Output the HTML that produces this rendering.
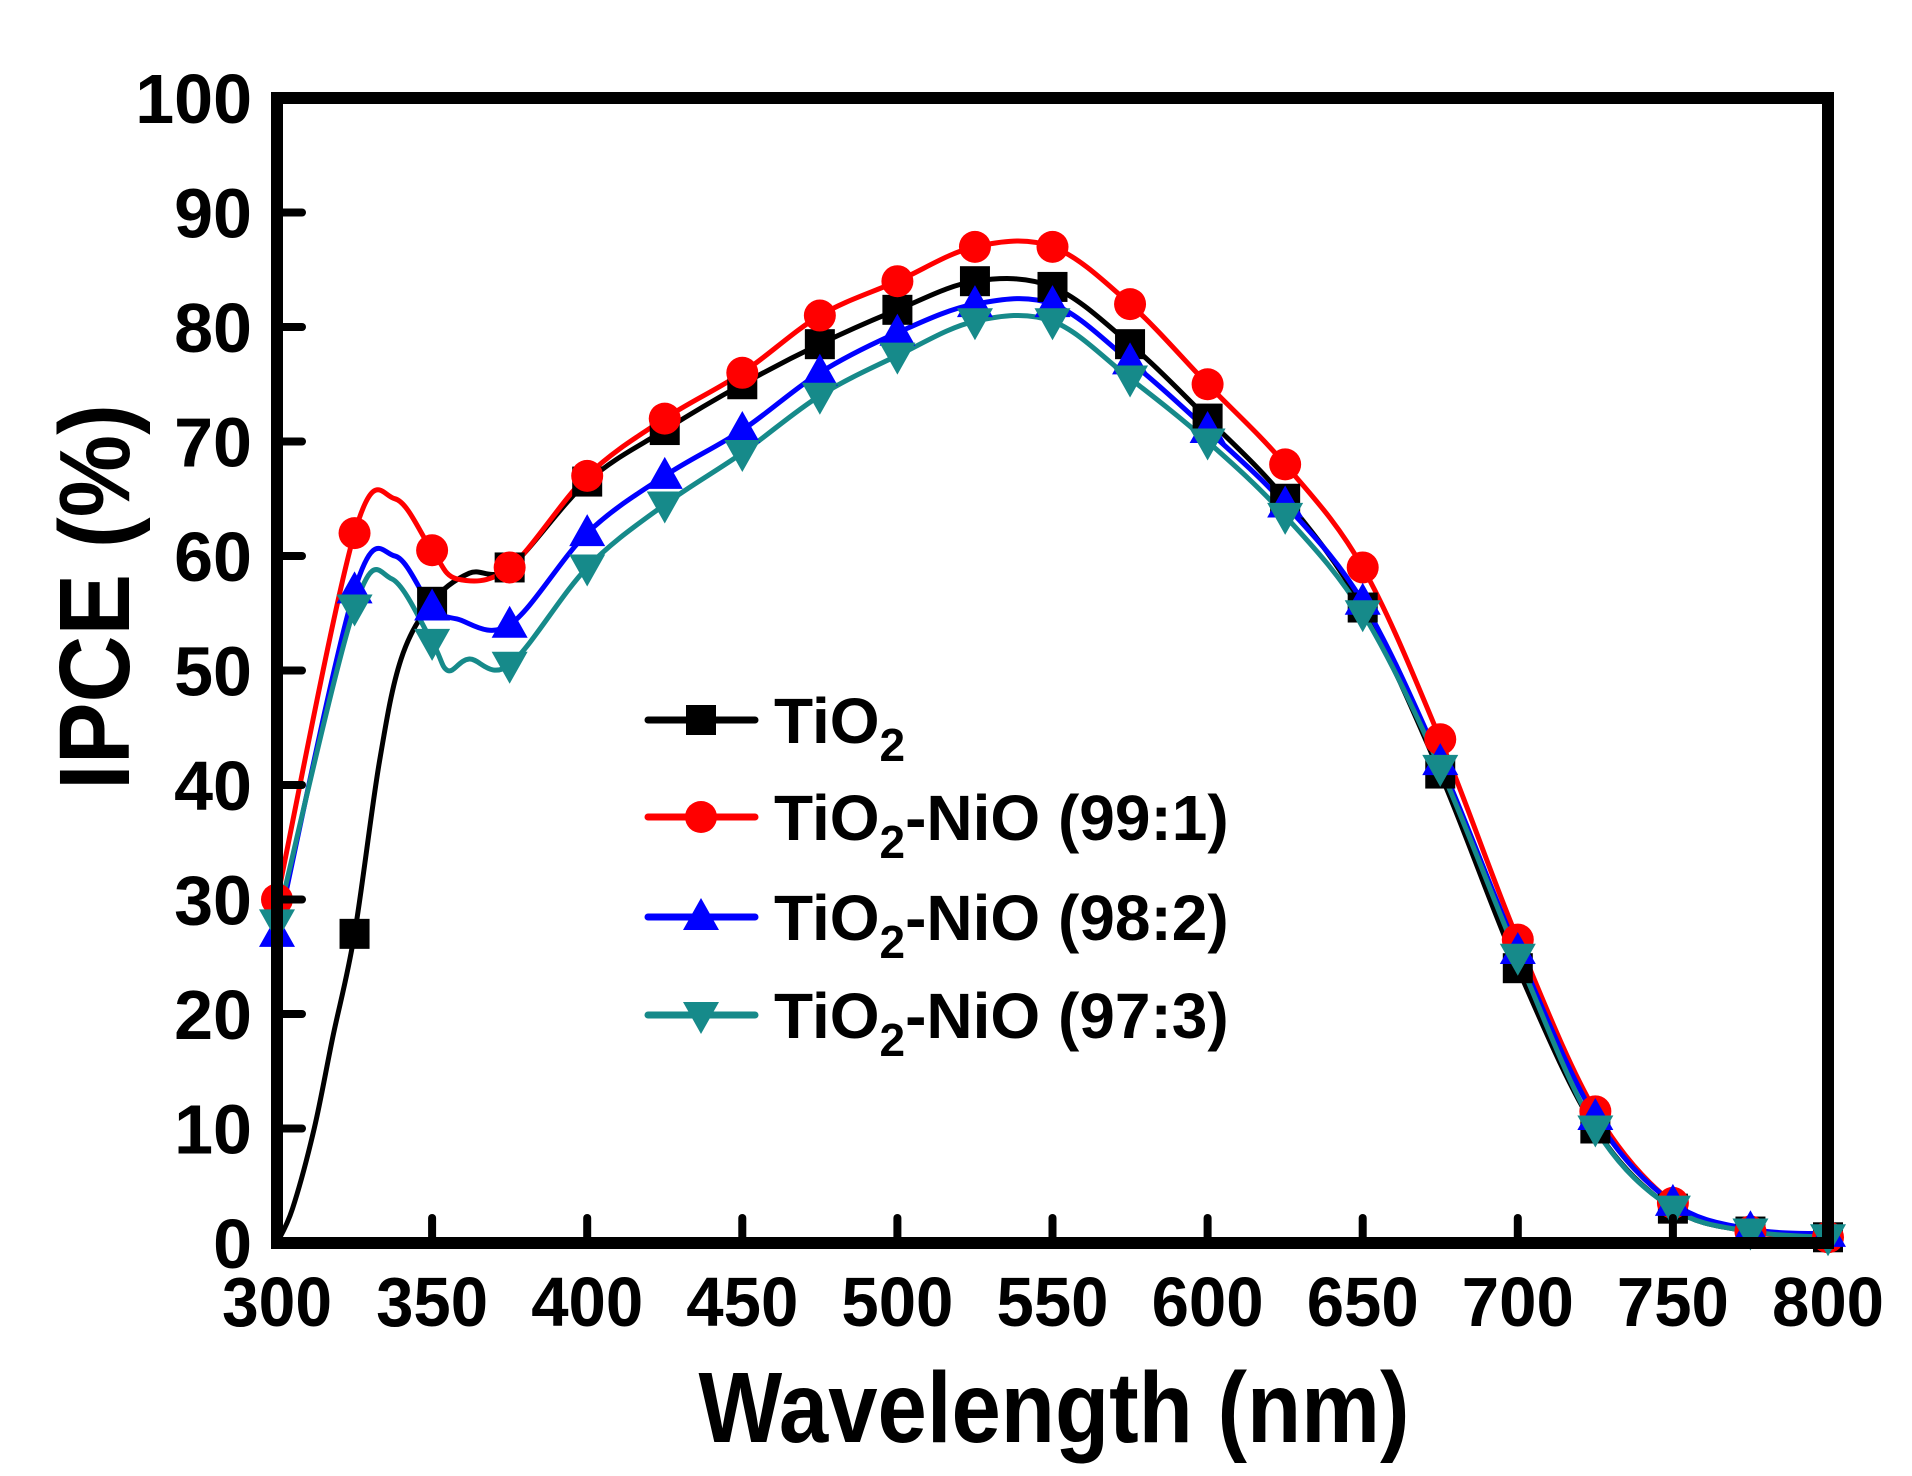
<!DOCTYPE html>
<html><head><meta charset="utf-8"><style>html,body{margin:0;padding:0;background:#fff}svg{display:block}</style></head>
<body>
<svg id="s" width="1912" height="1476" xmlns="http://www.w3.org/2000/svg" font-family="Liberation Sans, Arial, sans-serif" font-weight="bold">
<rect width="1912" height="1476" fill="#fff"/>
<g id="plot"></g>
<g id="axes"></g>
<text x="1054" y="1442" font-size="100" text-anchor="middle" textLength="711" lengthAdjust="spacingAndGlyphs">Wavelength (nm)</text>
<text transform="translate(129,597) rotate(-90)" font-size="100" text-anchor="middle" textLength="386" lengthAdjust="spacingAndGlyphs">IPCE (%)</text>
</svg>
<script>
var NS="http://www.w3.org/2000/svg";
function X(w){return 277+(w-300)*3.102;}
function Y(v){return 1243-v*11.45;}
function el(t,a,p){var e=document.createElementNS(NS,t);for(var k in a)e.setAttribute(k,a[k]);p.appendChild(e);return e;}
var plot=document.getElementById('plot'),axes=document.getElementById('axes');
var W=[300,325,350,375,400,425,450,475,500,525,550,575,600,625,650,675,700,725,750,775,800];
var S=[
 {c:'#000',m:'sq',d:[0,27,56,59,66.5,71,75,78.5,81.5,84,83.5,78.5,72,65,55.5,41,24,10,3,1,0.5],
  extra:[[305,3],[312,10],[318,18],[333,42],[340,51],[362,58.5]]},
 {c:'#ff0000',m:'ci',d:[30,62,60.5,59,67,72,76,81,84,87,87,82,75,68,59,44,26.5,11.5,3.5,1,0.5],
  extra:[[338,65],[358,58]]},
 {c:'#0000ff',m:'up',d:[27,57,55.5,54,62,67,71,76,79.5,82,82,77,71,64.5,56,42,25.5,11,3.5,1.2,0.8],
  extra:[[338,60],[358,54.5]]},
 {c:'#168a8a',m:'dn',d:[28,55.5,52.5,50.5,59,64.5,69,74,77.5,80.5,80.5,75.5,70,63.5,55,41.5,25,10,3,1,0.5],
  extra:[[337,58],[355,50],[362,51]]}
];
function path(pts){
 var d='M'+pts[0][0]+','+pts[0][1];
 for(var i=0;i<pts.length-1;i++){
  var p0=pts[Math.max(i-1,0)],p1=pts[i],p2=pts[i+1],p3=pts[Math.min(i+2,pts.length-1)];
  var c1=[p1[0]+(p2[0]-p0[0])/6,p1[1]+(p2[1]-p0[1])/6],c2=[p2[0]-(p3[0]-p1[0])/6,p2[1]-(p3[1]-p1[1])/6];
  d+=' C'+c1.join(',')+' '+c2.join(',')+' '+p2.join(',');
 }
 return d;
}
function marker(m,x,y,c,g){
 if(m=='sq')el('rect',{x:x-15,y:y-15,width:30,height:30,fill:c},g);
 else if(m=='ci')el('circle',{cx:x,cy:y,r:16,fill:c},g);
 else if(m=='up')el('polygon',{points:(x)+','+(y-19)+' '+(x-18)+','+(y+13)+' '+(x+18)+','+(y+13),fill:c},g);
 else el('polygon',{points:(x)+','+(y+19)+' '+(x-18)+','+(y-13)+' '+(x+18)+','+(y-13),fill:c},g);
}
S.forEach(function(s){
 var pts=W.map(function(w,i){return [w,s.d[i]];}).concat(s.extra);
 pts.sort(function(a,b){return a[0]-b[0];});
 var pp=pts.map(function(p){return [X(p[0]),Y(p[1])];});
 el('path',{d:path(pp),fill:'none',stroke:s.c,'stroke-width':5,'stroke-linejoin':'round'},plot);
});
S.forEach(function(s){
 var g=el('g',{},plot);
 W.forEach(function(w,i){if(s.m=='sq'&&w==300)return;marker(s.m,X(w),Y(s.d[i]),s.c,g);});
});
var ly=[720,817,917,1015],rest=['','-NiO (99:1)','-NiO (98:2)','-NiO (97:3)'];
S.forEach(function(s,i){
 el('line',{x1:648,y1:ly[i],x2:755,y2:ly[i],stroke:s.c,'stroke-width':7,'stroke-linecap':'round'},axes);
 marker(s.m,701,ly[i],s.c,axes);
 var t=el('text',{x:774,y:ly[i]+23,'font-size':64},axes);
 t.textContent='TiO';
 var sub=el('tspan',{'font-size':46,dy:18},t);sub.textContent='2';
 if(rest[i]){var r=el('tspan',{dy:-18,'font-size':64},t);r.textContent=rest[i];}
});
el('rect',{x:277,y:98,width:1551,height:1145,fill:'none',stroke:'#000','stroke-width':12},axes);
for(var v=0;v<=100;v+=10){
 var y=Y(v);
 if(v>0&&v<100)el('line',{x1:277,y1:y,x2:302,y2:y,stroke:'#000','stroke-width':8,'stroke-linecap':'round'},axes);
 var t=el('text',{x:252,y:y+25,'font-size':70,'text-anchor':'end'},axes);t.textContent=v;
}
for(var w=300;w<=800;w+=50){
 var x=X(w);
 if(w>300&&w<800)el('line',{x1:x,y1:1243,x2:x,y2:1218,stroke:'#000','stroke-width':8,'stroke-linecap':'round'},axes);
 var t=el('text',{x:x,y:1326,'font-size':70,'text-anchor':'middle','textLength':(w<=300?110:112),'lengthAdjust':'spacingAndGlyphs'},axes);t.textContent=w;
}
</script>
</body></html>
